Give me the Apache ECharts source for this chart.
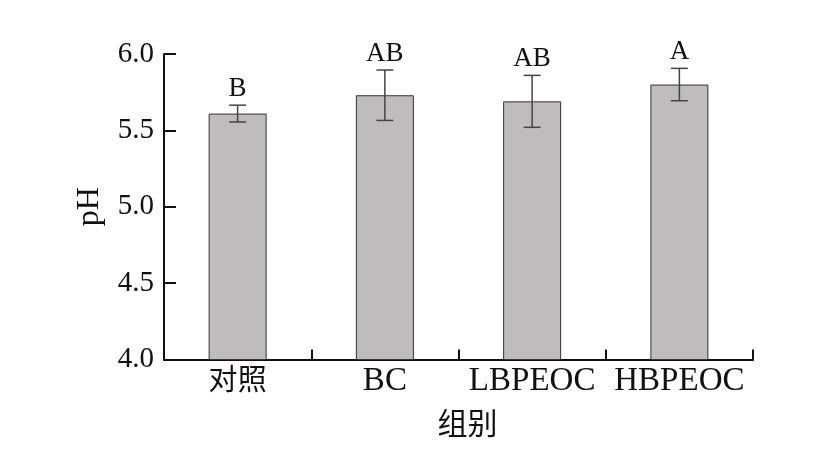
<!DOCTYPE html>
<html>
<head>
<meta charset="utf-8">
<script src="https://cdn.jsdelivr.net/npm/echarts@6/dist/echarts.min.js"></script>
<style>html,body{margin:0;padding:0;background:#fff}#c{width:821px;height:461px}</style>
</head>
<body>
<div id="c"></div>
<script>
var categories = ['对照', 'BC', 'LBPEOC', 'HBPEOC'];
var means = [5.61, 5.73, 5.69, 5.80];
var errors = [0.055, 0.165, 0.17, 0.106];
var letters = ['B', 'AB', 'AB', 'A'];
var yTicks = [4.0, 4.5, 5.0, 5.5, 6.0];

var FONT = '"Liberation Serif", "Noto Sans CJK SC", serif';
var chart = echarts.init(document.getElementById('c'), null, {renderer: 'canvas'});
var errData = means.map(function (m, i) { return [i, m, m - errors[i], m + errors[i]]; });

chart.setOption({
  animation: false,
  grid: {left: 164, right: 68, top: 54, bottom: 101.5},
  xAxis: {
    type: 'category',
    data: categories,
    name: '组别',
    nameLocation: 'middle',
    nameGap: 48,
    nameTextStyle: {fontFamily: '"Noto Sans CJK SC"', fontSize: 30, color: '#111', padding: [0, 0, 0, 18]},
    axisLine: {lineStyle: {color: '#111', width: 2}},
    axisTick: {show: true, inside: true, interval: 0, length: 10, lineStyle: {color: '#111', width: 2}},
    axisLabel: {
      interval: 0, margin: 5, color: '#111',
      formatter: function (v) {
        return /[\u4e00-\u9fff]/.test(v) ? '{cjk|' + v + '}' : '{lat|' + v + '}';
      },
      rich: {
        cjk: {fontFamily: '"Noto Sans CJK SC"', fontSize: 29, color: '#111'},
        lat: {fontFamily: FONT, fontSize: 33, color: '#111'}
      }
    }
  },
  yAxis: {
    type: 'value',
    min: 4.0,
    max: 6.0,
    interval: 0.5,
    name: 'pH',
    nameLocation: 'middle',
    nameGap: 58,
    nameTextStyle: {fontFamily: FONT, fontSize: 32, color: '#111'},
    axisLine: {show: true, lineStyle: {color: '#111', width: 2}},
    axisTick: {show: true, inside: true, length: 12, lineStyle: {color: '#111', width: 2}},
    splitLine: {show: false},
    axisLabel: {
      fontFamily: FONT, fontSize: 29, color: '#111', margin: 10,
      formatter: function (v) { return v.toFixed(1); }
    }
  },
  series: [
    {
      type: 'bar',
      data: means,
      barWidth: 58,
      itemStyle: {color: '#bebcbd', borderColor: '#333', borderWidth: 1}
    },
    {
      type: 'custom',
      data: errData,
      z: 10,
      renderItem: function (params, api) {
        var x = api.value(0);
        var lo = api.coord([x, api.value(2)]);
        var hi = api.coord([x, api.value(3)]);
        var hw = 8.5;
        var st = {stroke: '#444', lineWidth: 1.5};
        return {
          type: 'group',
          children: [
            {type: 'line', shape: {x1: lo[0], y1: lo[1], x2: hi[0], y2: hi[1]}, style: st},
            {type: 'line', shape: {x1: lo[0] - hw, y1: lo[1], x2: lo[0] + hw, y2: lo[1]}, style: st},
            {type: 'line', shape: {x1: hi[0] - hw, y1: hi[1], x2: hi[0] + hw, y2: hi[1]}, style: st},
            {type: 'text', x: hi[0], y: hi[1] - 3, style: {
              text: letters[params.dataIndex], fontFamily: FONT, fontSize: 27,
              fill: '#111', align: 'center', verticalAlign: 'bottom'
            }}
          ]
        };
      }
    }
  ]
});
</script>
</body>
</html>
